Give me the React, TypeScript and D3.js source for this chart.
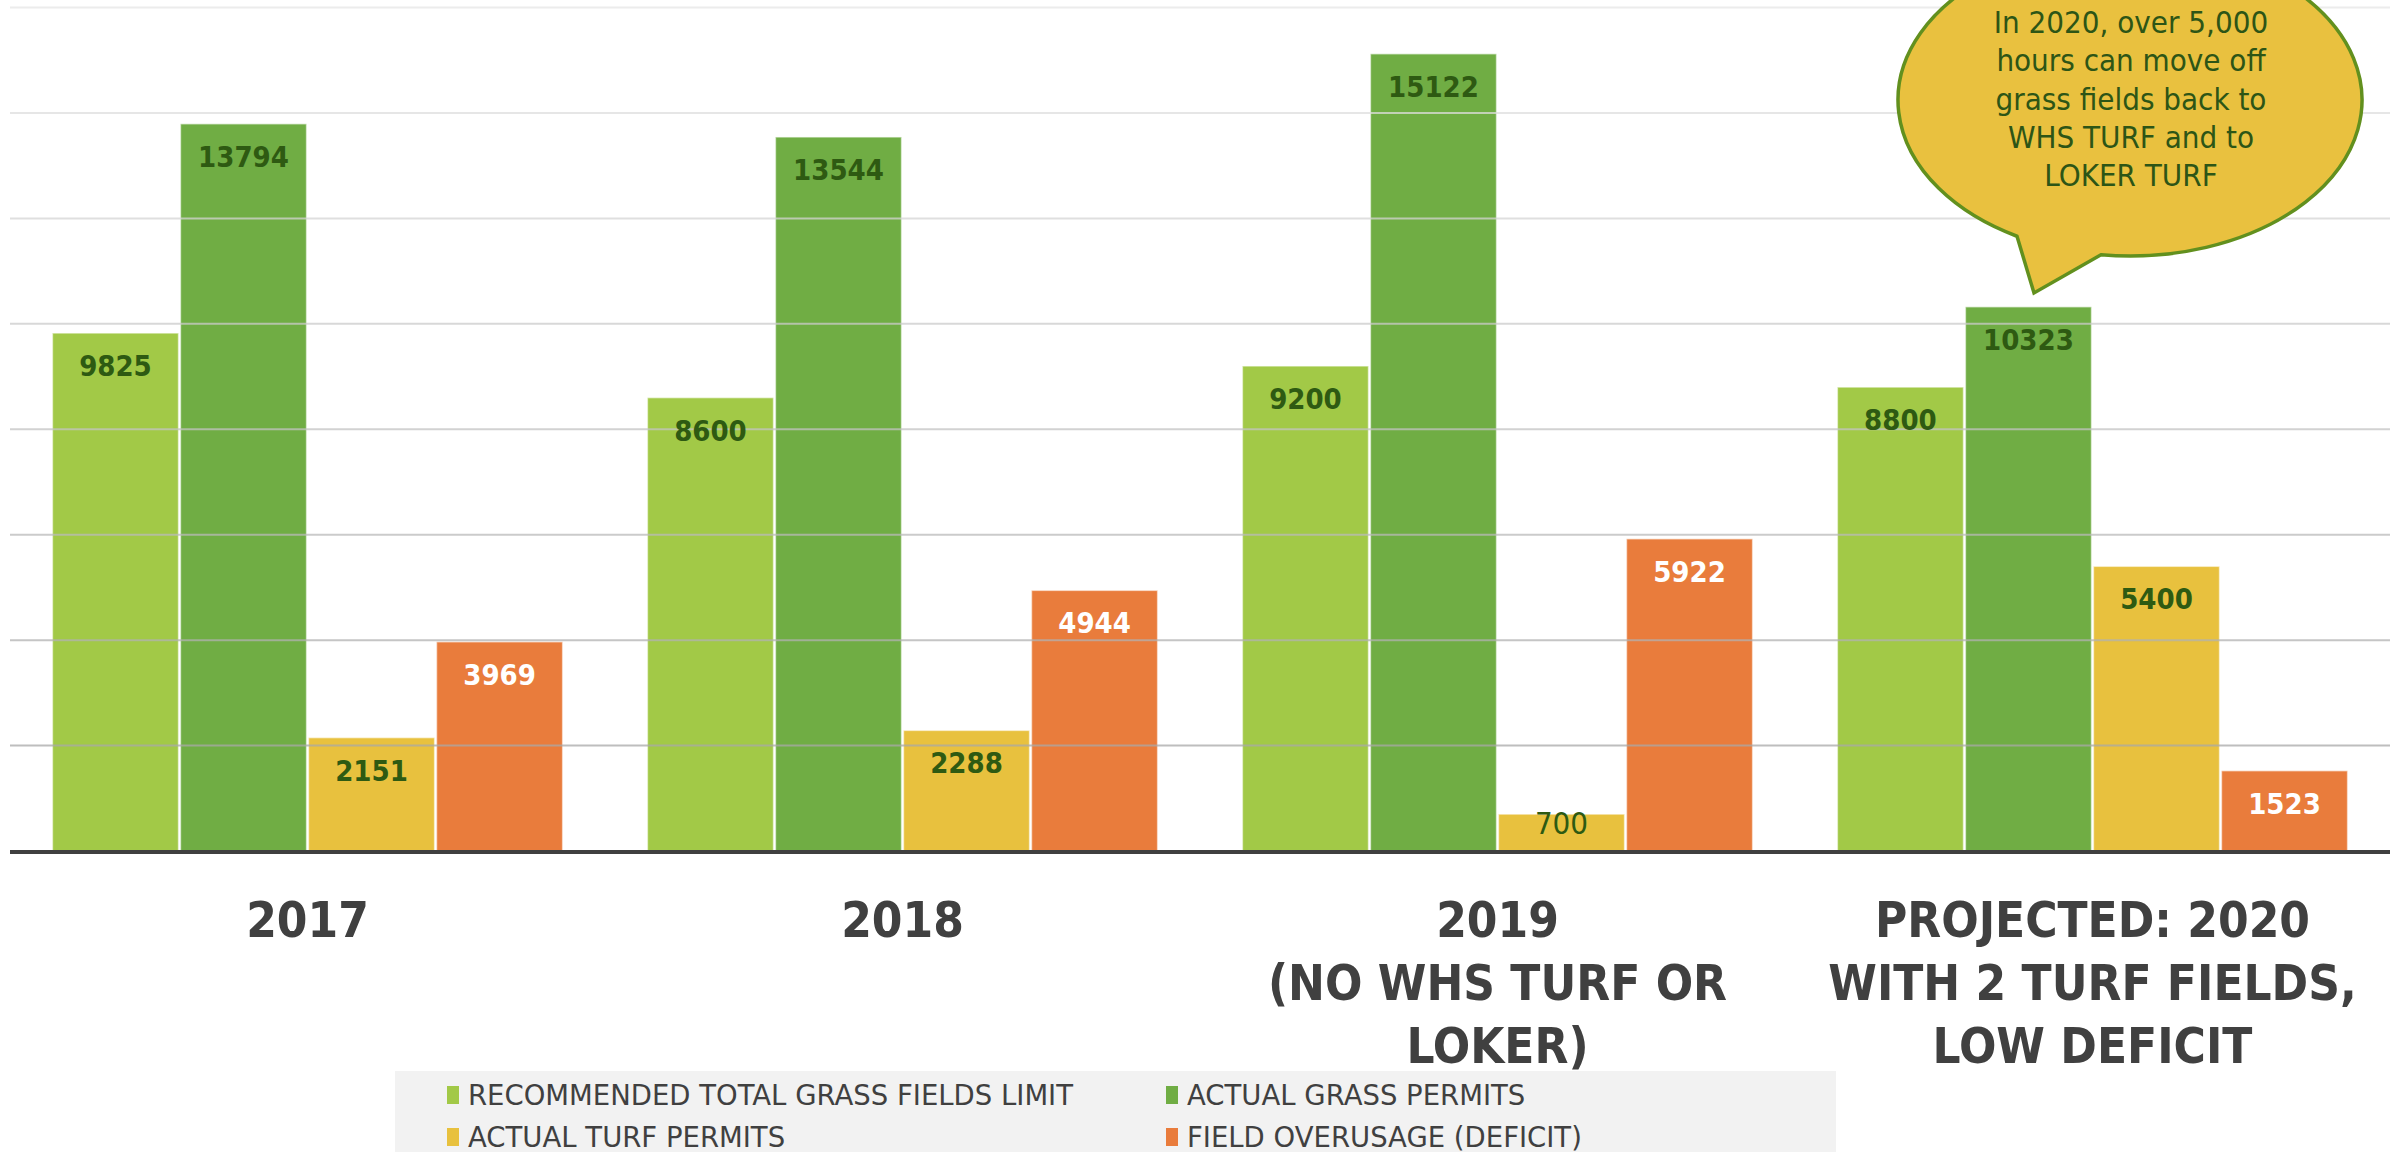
import React from 'react';
import * as d3 from 'd3';

const W = 2399;
const H = 1152;

// categories (each line of the axis label is a separate entry)
const categories = ['2017', '2018', '2019', '2020'];
const categoryLabels = [
  ['2017'],
  ['2018'],
  ['2019', '(NO WHS TURF OR', 'LOKER)'],
  ['PROJECTED: 2020', 'WITH 2 TURF FIELDS,', 'LOW DEFICIT'],
];

const seriesNames = [
  'RECOMMENDED TOTAL GRASS FIELDS LIMIT',
  'ACTUAL GRASS PERMITS',
  'ACTUAL TURF PERMITS',
  'FIELD OVERUSAGE (DEFICIT)',
];
const seriesColors = ['#A2C947', '#70AD44', '#E8C13E', '#E97C3C'];
const labelColors = ['#2E5A12', '#2E5A12', '#2E5A12', '#FFFFFF'];

const recommendedLimit = [9825, 8600, 9200, 8800];
const grassPermits = [13794, 13544, 15122, 10323];
const turfPermits = [2151, 2288, 700, 5400];
const overusage = [3969, 4944, 5922, 1523];
const seriesValues = [recommendedLimit, grassPermits, turfPermits, overusage];

const gridTicks = [2000, 4000, 6000, 8000, 10000, 12000, 14000, 16000];

const calloutLines = [
  'In 2020, over 5,000',
  'hours can move off',
  'grass fields back to',
  'WHS TURF and to',
  'LOKER TURF',
];

const FONT = "'DejaVu Sans Condensed', 'DejaVu Sans', sans-serif";

const App = () => {
  const plotLeft = 10;
  const plotRight = 2390;
  const baseY = 851;

  const x = d3.scaleBand<string>()
    .domain(categories)
    .range([plotLeft, plotRight])
    .paddingInner(0.1425)
    .paddingOuter(0.0713);

  const xInner = d3.scaleBand<number>()
    .domain(d3.range(seriesNames.length))
    .range([0, x.bandwidth()])
    .paddingInner(0.015);

  const y = d3.scaleLinear().domain([0, 16000]).range([baseY, 7.5]);

  // grid lines get darker toward the baseline
  const gridColor = d3.scaleLinear<string>()
    .domain([2000, 16000])
    .range(['#a8a8a8', '#e6e6e6']);

  // speech bubble
  const cx = 2130, cy = 100, rx = 232, ry = 156;
  const onEllipse = (xx: number) => {
    const t = (xx - cx) / rx;
    return [xx, cy + ry * Math.sqrt(1 - t * t)];
  };
  const p1 = onEllipse(2017);
  const p2 = onEllipse(2101);
  const tip = [2034, 293];
  const bubblePath = `M${p1[0]},${p1[1]} L${tip[0]},${tip[1]} L${p2[0]},${p2[1]} A${rx},${ry} 0 1 0 ${p1[0]},${p1[1]} Z`;

  return (
    <div style={{ position: 'absolute', left: 0, top: 0, width: W, height: H, background: '#fff' }}>
      <svg width={W} height={H} style={{ display: 'block' }} fontFamily={FONT}>
        <rect width={W} height={H} fill="#fff" />

        {/* bars */}
        {categories.map((c, ci) => (
          <g key={c} transform={`translate(${x(c)},0)`}>
            {seriesValues.map((vals, si) => (
              <rect
                key={si}
                x={xInner(si)}
                y={y(vals[ci])}
                width={xInner.bandwidth()}
                height={baseY - y(vals[ci])}
                fill={seriesColors[si]}
                stroke="rgba(255,255,255,0.55)"
                strokeWidth={1.5}
              />
            ))}
          </g>
        ))}

        {/* grid lines (on top, faint, so they show through the bars) */}
        {gridTicks.map((t) => (
          <line
            key={t}
            x1={plotLeft}
            x2={plotRight}
            y1={y(t)}
            y2={y(t)}
            stroke={gridColor(t)}
            strokeOpacity={0.75}
            strokeWidth={2}
          />
        ))}

        {/* baseline */}
        <line x1={plotLeft} x2={plotRight} y1={baseY + 1} y2={baseY + 1} stroke="#404040" strokeWidth={4} />

        {/* value labels */}
        {categories.map((c, ci) => (
          <g key={c} transform={`translate(${x(c)},0)`}>
            {seriesValues.map((vals, si) => {
              const top = y(vals[ci]);
              const short = baseY - top < 60;
              return (
                <text
                  key={si}
                  x={(xInner(si) as number) + xInner.bandwidth() / 2}
                  y={short ? baseY - 17 : top + 43}
                  textAnchor="middle"
                  fontSize={short ? 31 : 29}
                  fontWeight={short ? 400 : 700}
                  fill={labelColors[si]}
                >
                  {vals[ci]}
                </text>
              );
            })}
          </g>
        ))}

        {/* category labels */}
        {categories.map((c, ci) => (
          <text
            key={c}
            x={(x(c) as number) + x.bandwidth() / 2}
            textAnchor="middle"
            fontSize={49}
            fontWeight={700}
            fill="#404040"
          >
            {categoryLabels[ci].map((line, li) => (
              <tspan key={li} x={(x(c) as number) + x.bandwidth() / 2} y={937 + li * 63}>
                {line}
              </tspan>
            ))}
          </text>
        ))}

        {/* callout */}
        <path d={bubblePath} fill="#E9C13F" stroke="#62901E" strokeWidth={3.5} strokeLinejoin="miter" />
        {calloutLines.map((line, i) => (
          <text key={i} x={2131} y={33 + i * 38.3} textAnchor="middle" fontSize={31} fill="#2D5516">
            {line}
          </text>
        ))}

        {/* legend */}
        <rect x={395} y={1071} width={1441} height={H - 1071} fill="#F2F2F2" />
        {seriesNames.map((name, i) => {
          const lx = i % 2 === 0 ? 447 : 1166;
          const ly = i < 2 ? 1095 : 1137;
          return (
            <g key={name}>
              <rect x={lx} y={ly - 9} width={12} height={18} fill={seriesColors[i]} />
              <text x={lx + 21} y={ly + 10} fontSize={27.5} fontFamily="'DejaVu Sans', sans-serif" fill="#404040">
                {name}
              </text>
            </g>
          );
        })}
      </svg>
    </div>
  );
};

export default App;
